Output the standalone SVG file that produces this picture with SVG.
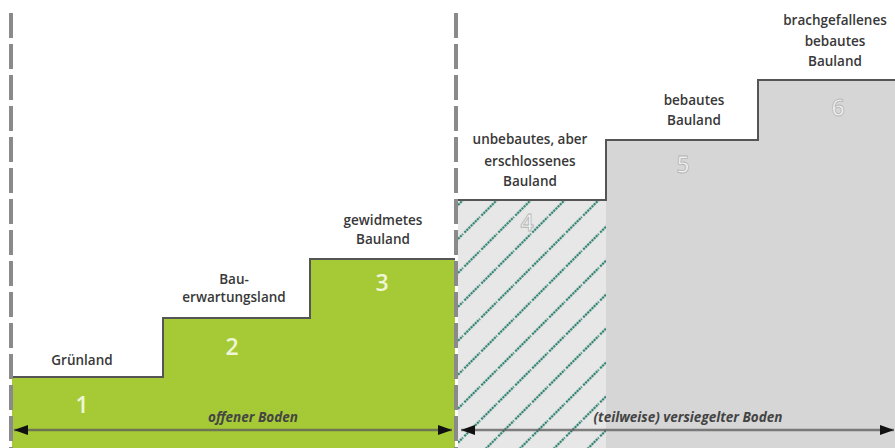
<svg xmlns="http://www.w3.org/2000/svg" width="895" height="448" viewBox="0 0 895 448">
  <defs>
    <pattern id="hatch" patternUnits="userSpaceOnUse" width="24" height="24" patternTransform="translate(497,200) rotate(45) translate(-12,0)">
      <line x1="12" y1="0" x2="12" y2="24" stroke="#2f8170" stroke-width="2.6" stroke-linecap="round" stroke-dasharray="0 3"/>
    </pattern>
    <marker id="arr" markerUnits="userSpaceOnUse" markerWidth="16" markerHeight="12" refX="14" refY="5" orient="auto-start-reverse">
      <path d="M0,0 L14,5 L0,10 Z" fill="#111"/>
    </marker>
  </defs>
  <style>
    .lbl { font-family: "Open Sans", "Liberation Sans", sans-serif; font-weight: 600; font-size: 13.5px; fill: #383838; text-anchor: middle; }
    .num { font-family: "Open Sans", "Liberation Sans", sans-serif; font-weight: 600; font-size: 23px; text-anchor: middle; }
    .gnum { fill: #eef6d6; }
    .snum { fill: #f2f2f2; stroke: #b4b4b4; stroke-width: 0.8; }
    .green { fill: #a6ca35; }
    .gray { fill: #d6d6d6; }
    .edge { fill: none; stroke: #555; stroke-width: 2; }
    .axis { font-family: "Open Sans", "Liberation Sans", sans-serif; font-weight: 700; font-style: italic; font-size: 13.5px; fill: #444; text-anchor: middle; }
    .divider { stroke: #8a8a8a; stroke-width: 4; stroke-dasharray: 25 6; }
    .dim { stroke: #5a5a5a; stroke-opacity: 0.75; stroke-width: 2.5; }
  </style>
  <rect x="0" y="0" width="895" height="448" fill="#ffffff"/>

  <g id="step1">
    <rect class="green" x="12" y="377" width="151" height="71"/>
    <text class="lbl" x="82" y="365">Grünland</text>
    <text class="num gnum" x="82" y="413">1</text>
  </g>
  <g id="step2">
    <rect class="green" x="163" y="318" width="147" height="130"/>
    <text class="lbl" x="234" y="284">Bau-</text>
    <text class="lbl" x="234" y="302">erwartungsland</text>
    <text class="num gnum" x="232" y="355">2</text>
  </g>
  <g id="step3">
    <rect class="green" x="310" y="259" width="145" height="189"/>
    <text class="lbl" x="383" y="225">gewidmetes</text>
    <text class="lbl" x="383" y="244">Bauland</text>
    <text class="num gnum" x="382" y="291">3</text>
  </g>
  <g id="step4">
    <rect x="458" y="200" width="148" height="248" fill="#e7e7e7"/>
    <rect x="458" y="200" width="148" height="248" fill="url(#hatch)"/>
    <text class="lbl" x="530" y="144">unbebautes, aber</text>
    <text class="lbl" x="530" y="166">erschlossenes</text>
    <text class="lbl" x="530" y="186">Bauland</text>
    <text class="num snum" x="527" y="231">4</text>
  </g>
  <g id="step5">
    <rect class="gray" x="606" y="140" width="152" height="308"/>
    <text class="lbl" x="694" y="105">bebautes</text>
    <text class="lbl" x="694" y="125">Bauland</text>
    <text class="num snum" x="683" y="173">5</text>
  </g>
  <g id="step6">
    <rect class="gray" x="758" y="80" width="137" height="368"/>
    <text class="lbl" x="835" y="25">brachgefallenes</text>
    <text class="lbl" x="835" y="46">bebautes</text>
    <text class="lbl" x="835" y="66">Bauland</text>
    <text class="num snum" x="838" y="116">6</text>
  </g>

  <g id="outlines">
    <polyline class="edge" points="12,377 163,377 163,318 310,318 310,259 455,259"/>
    <polyline class="edge" points="458,200 606,200 606,140 758,140 758,80 895,80"/>
  </g>

  <g id="connectors">
    <line class="divider" x1="11" y1="13" x2="11" y2="448"/>
    <line class="divider" x1="456" y1="13" x2="456" y2="448"/>
    <line class="dim" x1="14" y1="430" x2="452" y2="430" marker-start="url(#arr)" marker-end="url(#arr)"/>
    <line class="dim" x1="461" y1="430" x2="894" y2="430" marker-start="url(#arr)" marker-end="url(#arr)"/>
    <text class="axis" x="253" y="422">offener Boden</text>
    <text class="axis" x="688" y="422">(teilweise) versiegelter Boden</text>
  </g>
</svg>
